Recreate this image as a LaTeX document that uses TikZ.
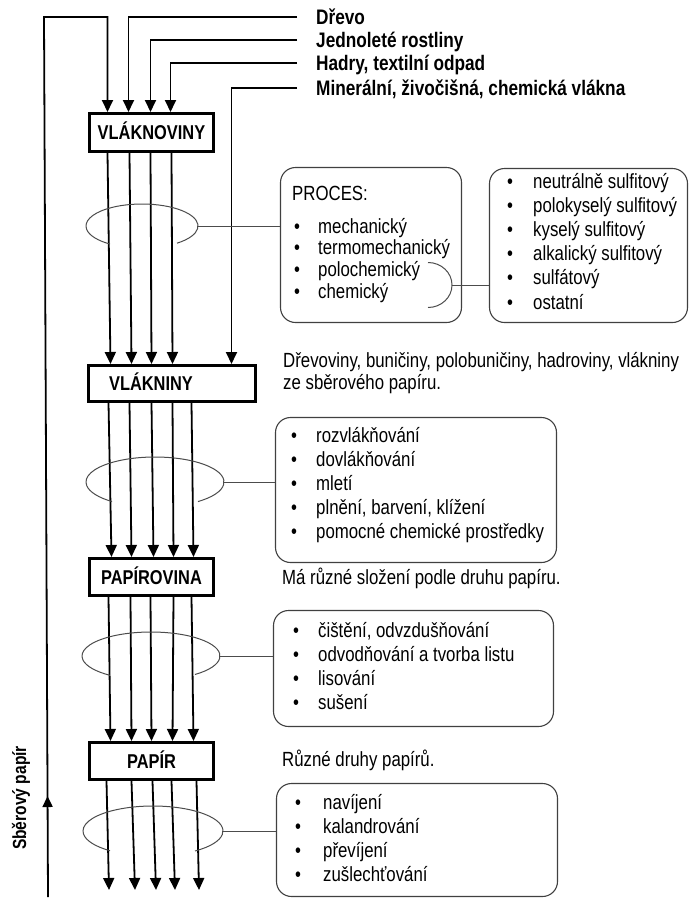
\documentclass[tikz,border=0pt]{standalone}
\usepackage{fontspec}
\setmainfont{Liberation Sans}[FakeStretch=0.82]
\usetikzlibrary{arrows.meta,decorations.markings}
\newcommand\dgBody{\fontsize{20.5}{24}\selectfont}
\newcommand\dgLab{\fontsize{20}{24}\selectfont\bfseries}
\newcommand\dgTop{\fontsize{21}{25}\selectfont\bfseries}
\newcommand\dgSide{\fontsize{19}{22}\selectfont\bfseries}
\begin{document}
\begin{tikzpicture}[x=1pt,y=-1pt,
  arr/.style={line width=1.8pt,-{Triangle[width=11pt,length=12pt]}},
  mainbox/.style={draw,line width=3pt,inner sep=0pt,text height=14pt,text depth=0pt,font=\dgLab},
  panel/.style={draw=black!75,line width=1.1pt,rounded corners=15pt,inner sep=0pt},
  ring/.style={draw=black!70,line width=1pt},
  item/.style={anchor=base west,inner sep=0pt,font=\dgBody},
  bul/.style={anchor=base,inner sep=0pt,font=\dgBody},
  toplab/.style={anchor=west,inner sep=0pt,text height=15pt,text depth=0pt,font=\dgTop},
]
\useasboundingbox (0,0) rectangle (690,898);

% main stages
\node[mainbox,minimum width=124pt,minimum height=38pt] (vn) at (151.5,132.5) {VLÁKNOVINY};
\node[mainbox,minimum width=167pt,minimum height=36pt] (vk) at (172,383.5) {};
\node[anchor=center,font=\dgLab,inner sep=0pt,text height=14pt,text depth=0pt] (vktext) at (151,383.5) {VLÁKNINY};
\node[mainbox,minimum width=124pt,minimum height=37pt] (pv) at (151.5,577) {PAPÍROVINA};
\node[mainbox,minimum width=124pt,minimum height=37pt] (pp) at (151.5,761) {PAPÍR};

% raw materials
\node[toplab] (drevo) at (316,17) {Dřevo};
\node[toplab] (jedn) at (316,40) {Jednoleté rostliny};
\node[toplab] (hadry) at (316,63) {Hadry, textilní odpad};
\node[toplab] (miner) at (316,88) {Minerální, živočišná, chemická vlákna};

\draw[arr] ([xshift=-19pt]drevo.west) -| ([xshift=40.5pt]vn.north west);
\draw[arr] ([xshift=-19pt]jedn.west) -| ([xshift=62.5pt]vn.north west);
\draw[arr] ([xshift=-19pt]hadry.west) -| ([xshift=82.5pt]vn.north west);
\draw[arr] ([xshift=-19pt]miner.west) -| ([xshift=144.5pt]vk.north west);

% recycled paper loop
\coordinate (sbbot) at (48,897);
\coordinate (sbtop) at (44,17);
\draw[arr,postaction=decorate,
  decoration={markings,mark=at position 101pt with {\arrow{Triangle[width=10pt,length=11pt]}}}]
  (sbbot) -- (sbtop) -| ([xshift=19.5pt]vn.north west);
\node[rotate=90,font=\dgSide,inner sep=0pt] (sber) at (21,798) {Sběrový papír};

% fibre bundles between the stages
\foreach \a/\b [count=\i] in {19.5/23.5, 41.5/44.5, 62.5/64.5, 83.5/85.5}
  \draw[arr] ([xshift=\a pt]vn.south west) -- ([xshift=\b pt]vk.north west);
\foreach \a/\b [count=\i] in {21.5/23.5, 42.5/43.5, 64.5/65.5, 85.5/85.5, 104.5/105.5}
  \draw[arr] ([xshift=\a pt]vk.south west) -- ([xshift=\b pt]pv.north west);
\foreach \a/\b [count=\i] in {20.5/22.5, 42.5/43.5, 62.5/63.5, 85.5/84.5, 103.5/105.5}
  \draw[arr] ([xshift=\a pt]pv.south west) -- ([xshift=\b pt]pp.north west);
\foreach \a/\x [count=\i] in {18.5/109, 43.5/135, 64.5/156, 83.5/175, 108.5/199} {
  \coordinate (out\i) at (\x,890);
  \draw[arr] ([xshift=\a pt]pp.south west) -- (out\i);
}

% rings tying each bundle
\draw[ring] (142,226) ++(51.3:56 and 22) arc[start angle=51.3,end angle=-235.2,x radius=56,y radius=22];
\draw[ring] (155,482) ++(51.5:69 and 25) arc[start angle=51.5,end angle=-231.5,x radius=69,y radius=25];
\draw[ring] (151,656) ++(50.4:69 and 24) arc[start angle=50.4,end angle=-233.5,x radius=69,y radius=24];
\draw[ring] (153,831) ++(53.1:70 and 25) arc[start angle=53.1,end angle=-232.1,x radius=70,y radius=25];
\coordinate (e1) at (198,226);
\coordinate (e2) at (224,482);
\coordinate (e3) at (220,656);
\coordinate (e4) at (223,831);

% process panels
\node[panel,minimum width=181pt,minimum height=155pt] (proc) at (371,245) {};
\node[panel,minimum width=198pt,minimum height=154pt] (sulf) at (588.5,245.5) {};
\node[panel,minimum width=281pt,minimum height=145pt] (rozv) at (416,490) {};
\node[panel,minimum width=280pt,minimum height=116pt] (cist) at (413.5,668.5) {};
\node[panel,minimum width=281pt,minimum height=113pt] (navi) at (417,840) {};

\draw[ring] (e1) -- (proc.west |- e1);
\draw[ring] (e2) -- (rozv.west |- e2);
\draw[ring] (e3) -- (cist.west |- e3);
\draw[ring] (e4) -- (navi.west |- e4);

\node[item] (proct) at (292,200) {PROCES:};
\foreach \t [count=\i] in {mechanický, termomechanický, polochemický, chemický} {
  \node[bul] (procb\i) at (297,{211.5+21.7*\i}) {•};
  \node[item] (proci\i) at (318,{211.5+21.7*\i}) {\t};
}
\draw[ring] (428,262.5) arc[start angle=-90,end angle=90,x radius=24,y radius=22.5];
\coordinate (brk) at (452,285);
\draw[ring] (brk) -- (sulf.west |- brk);

\foreach \t [count=\i] in {neutrálně sulfitový, polokyselý sulfitový, kyselý sulfitový, alkalický sulfitový, sulfátový, ostatní} {
  \node[bul] (sulfb\i) at (510,{163.8+24.2*\i}) {•};
  \node[item] (sulfi\i) at (533,{163.8+24.2*\i}) {\t};
}

\node[item] (d1a) at (283,367) {Dřevoviny, buničiny, polobuničiny, hadroviny, vlákniny};
\node[item] (d1b) at (283,389) {ze sběrového papíru.};
\foreach \t [count=\i] in {rozvlákňování, dovlákňování, mletí, {plnění, barvení, klížení}, pomocné chemické prostředky} {
  \node[bul] (rozvb\i) at (294,{418+24*\i}) {•};
  \node[item] (rozvi\i) at (316,{418+24*\i}) {\t};
}

\node[item] (d2) at (282,584) {Má různé složení podle druhu papíru.};
\foreach \t [count=\i] in {{čištění, odvzdušňování}, odvodňování a tvorba listu, lisování, sušení} {
  \node[bul] (cistb\i) at (296,{613+24*\i}) {•};
  \node[item] (cisti\i) at (318,{613+24*\i}) {\t};
}

\node[item] (d3) at (282,766) {Různé druhy papírů.};
\foreach \t [count=\i] in {navíjení, kalandrování, převíjení, zušlechťování} {
  \node[bul] (navib\i) at (298,{785+24*\i}) {•};
  \node[item] (navii\i) at (323,{785+24*\i}) {\t};
}
\end{tikzpicture}
\end{document}
